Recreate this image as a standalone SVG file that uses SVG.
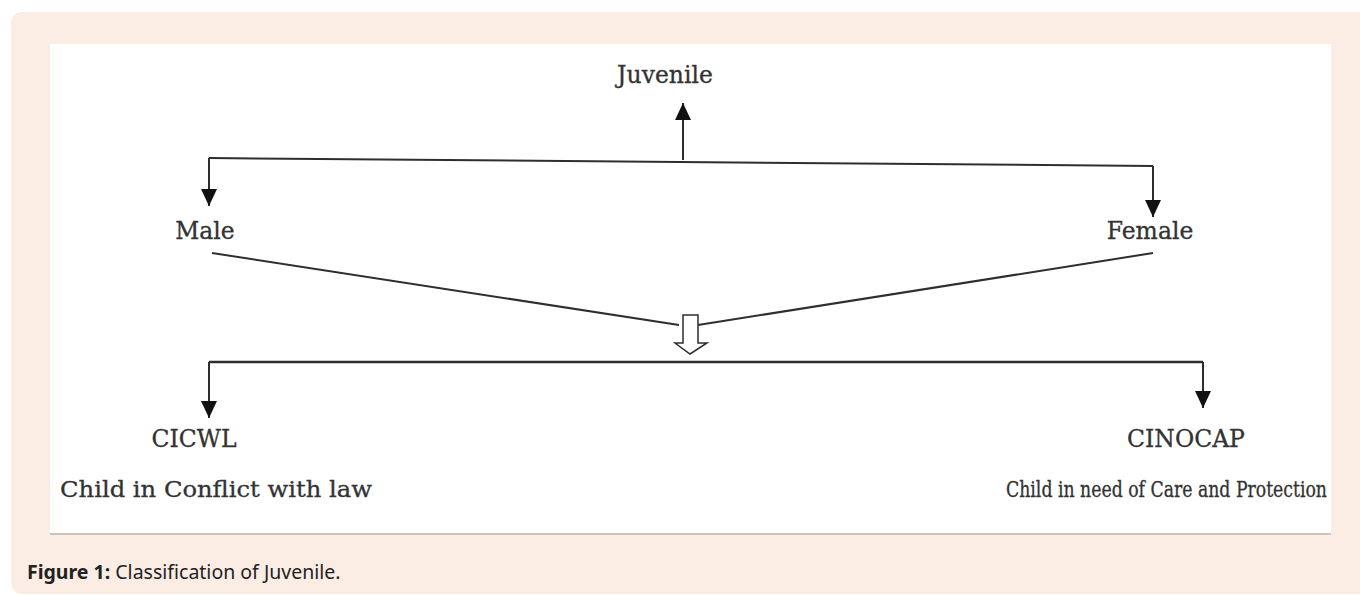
<svg xmlns="http://www.w3.org/2000/svg" width="1360" height="596" viewBox="0 0 1360 596">
  <style>
    .lbl { font-family: "DejaVu Serif", "Liberation Serif", serif; font-size: 23.5px; fill: #333; stroke: #333; stroke-width: 0.3; }
    .long { font-family: "DejaVu Serif", "Liberation Serif", serif; font-size: 22px; fill: #333; stroke: #333; stroke-width: 0.3; }
    .longc { font-family: "DejaVu Serif Condensed", "DejaVu Serif", serif; font-size: 22.5px; fill: #333; stroke: #333; stroke-width: 0.3; }
    .conn { stroke: #2e2e2e; stroke-width: 2; fill: none; }
    .cap { font-family: "Noto Sans", "Open Sans", sans-serif; font-size: 19.5px; fill: #222; }
  </style>
  <defs>
    <marker id="ah" markerUnits="userSpaceOnUse" markerWidth="18" markerHeight="16" viewBox="0 0 18 16" refX="17" refY="8" orient="auto">
      <path d="M0,0 L17,8 L0,16 Z" fill="#111"/>
    </marker>
  </defs>
  <rect x="11" y="12" width="1370" height="582" rx="11" ry="11" fill="#fbede3"/>
  <rect x="50" y="44" width="1281" height="490" fill="#ffffff"/>
  <line x1="50" y1="534" x2="1331" y2="534" stroke="#cbc3bd" stroke-width="2"/>

  <g id="connectors">
    <line class="conn" x1="683" y1="160" x2="683" y2="103" marker-end="url(#ah)"/>
    <polyline class="conn" points="209,158 1153,166"/>
    <line class="conn" x1="209" y1="158" x2="209" y2="206" marker-end="url(#ah)"/>
    <line class="conn" x1="1153" y1="166" x2="1153" y2="217" marker-end="url(#ah)"/>
    <line class="conn" x1="212" y1="253" x2="679" y2="325"/>
    <line class="conn" x1="698" y1="325" x2="1153" y2="253"/>
    <polygon points="683,315 698,315 698,343 707,343 690,354 675,343 683,343" fill="#fff" stroke="#2e2e2e" stroke-width="1.5"/>
    <line x1="209" y1="362" x2="1203" y2="362" stroke="#2e2e2e" stroke-width="2.5"/>
    <line class="conn" x1="209" y1="362" x2="209" y2="418" marker-end="url(#ah)"/>
    <line class="conn" x1="1203" y1="362" x2="1203" y2="408" marker-end="url(#ah)"/>
  </g>

  <g id="juvenile"><text class="lbl" x="665" y="83" text-anchor="middle">Juvenile</text></g>
  <g id="male"><text class="lbl" x="205" y="239" text-anchor="middle">Male</text></g>
  <g id="female"><text class="lbl" x="1150" y="239" text-anchor="middle">Female</text></g>
  <g id="cicwl">
    <text class="lbl" x="194" y="447" text-anchor="middle">CICWL</text>
    <text class="long" x="60" y="497" textLength="312" lengthAdjust="spacingAndGlyphs">Child in Conflict with law</text>
  </g>
  <g id="cinocap">
    <text class="lbl" x="1186" y="447" text-anchor="middle">CINOCAP</text>
    <text class="longc" x="1006" y="497" textLength="321" lengthAdjust="spacingAndGlyphs">Child in need of Care and Protection</text>
  </g>
  <g id="caption">
    <text class="cap" x="27" y="579"><tspan font-weight="bold">Figure 1:</tspan> Classification of Juvenile.</text>
  </g>
</svg>
